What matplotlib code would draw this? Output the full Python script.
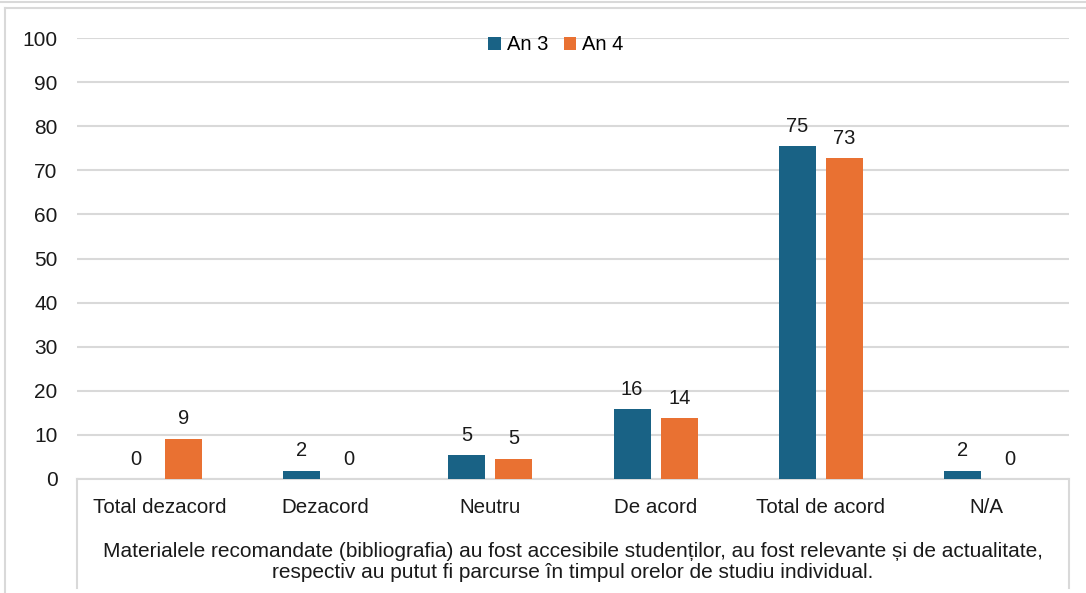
import matplotlib
matplotlib.use("Agg")
import matplotlib.pyplot as plt
from matplotlib.lines import Line2D
import numpy as np

categories = ["Total dezacord", "Dezacord", "Neutru", "De acord", "Total de acord", "N/A"]
an3 = [0.0, 1.9, 5.4, 15.8, 75.4, 1.9]
an4 = [9.1, 0.0, 4.6, 13.8, 72.7, 0.0]
series_names = ["An 3", "An 4"]
yticks = [0, 10, 20, 30, 40, 50, 60, 70, 80, 90, 100]
xtitle = ("Materialele recomandate (bibliografia) au fost accesibile studenților, au fost relevante și de actualitate,\n"
          "respectiv au putut fi parcurse în timpul orelor de studiu individual.")

C3 = "#196285"
C4 = "#E97132"
GRID = "#D9D9D9"
TXT = "#1a1a1a"
FONT = ["Liberation Sans", "DejaVu Sans"]
plt.rcParams['font.family'] = FONT

W, H = 1086, 593
fig = plt.figure(figsize=(W / 100, H / 100), dpi=100)
L, R, T, B = 77, 1069, 38, 479
ax = fig.add_axes([L / W, 1 - B / H, (R - L) / W, (B - T) / H])

x = np.arange(len(categories))
bw = 0.225
off = bw / 2 + 0.03
b1 = ax.bar(x - off, an3, bw, color=C3, label=series_names[0], zorder=3)
b2 = ax.bar(x + off, an4, bw, color=C4, label=series_names[1], zorder=3)

for bars, vals in ((b1, an3), (b2, an4)):
    for rect, v in zip(bars, vals):
        ax.annotate(f"{v:.0f}", (rect.get_x() + rect.get_width() / 2, v),
                    xytext=(0, 7.5), textcoords="offset points",
                    ha="center", va="bottom", fontsize=14.5, color=TXT)

ax.set_xlim(-0.5, len(categories) - 0.5)
ax.set_ylim(0, 100)
ax.set_yticks(yticks)
ax.yaxis.grid(True, color=GRID, linewidth=1.5, zorder=0)
ax.set_axisbelow(True)
for s in ("top", "right", "left"):
    ax.spines[s].set_visible(False)
ax.spines["bottom"].set_color(GRID)
ax.spines["bottom"].set_linewidth(1.5)
ax.tick_params(axis="y", length=0, pad=14, labelsize=15, labelcolor=TXT)
ax.tick_params(axis="x", length=0, pad=14, labelsize=14.8, labelcolor=TXT)
ax.set_xticks(x)
ax.set_xticklabels(categories)

fig.text((L + R) / 2 / W, 1 - 562 / H, xtitle, ha="center", va="center",
         fontsize=15, color=TXT, linespacing=1.12)

leg = ax.legend(loc="center", bbox_to_anchor=((556 - L) / (R - L), (B - 45) / (B - T)),
                ncol=2, frameon=False, fontsize=14.5, handlelength=0.6, handleheight=0.6,
                handletextpad=0.3, columnspacing=0.8, borderaxespad=0)

# axis-box vertical lines and outer frame
for xp in (L, R):
    fig.add_artist(Line2D([xp / W, xp / W], [1 - B / H, 1 - 588 / H], color=GRID, lw=1.5))
fig.add_artist(Line2D([0, 1], [1 - 1.5 / H, 1 - 1.5 / H], color=GRID, lw=1.5))
fig.add_artist(Line2D([5 / W, 1], [1 - 8 / H, 1 - 8 / H], color=GRID, lw=1.5))
fig.add_artist(Line2D([5 / W, 5 / W], [1 - 8 / H, 0], color=GRID, lw=1.5))

fig.savefig("out.png", dpi=100)
